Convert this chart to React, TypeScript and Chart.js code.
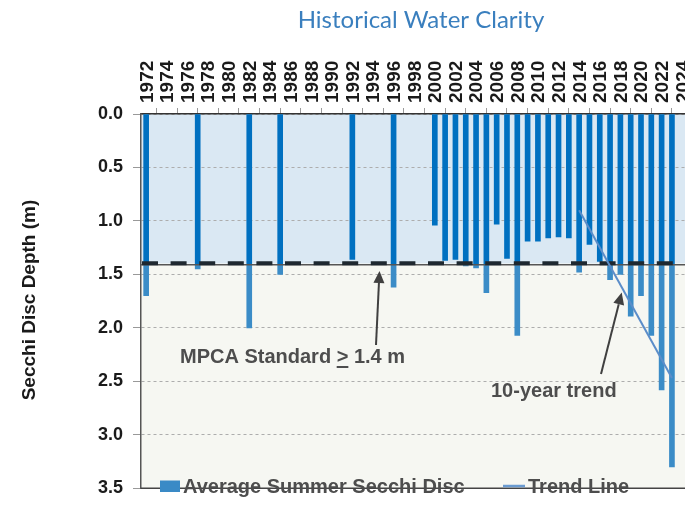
import React, { useEffect, useRef } from 'react';
import { Chart, registerables } from 'chart.js';
Chart.register(...registerables);

const years = [
  '1972','1973','1974','1975','1976','1977','1978','1979','1980','1981',
  '1982','1983','1984','1985','1986','1987','1988','1989','1990','1991',
  '1992','1993','1994','1995','1996','1997','1998','1999','2000','2001',
  '2002','2003','2004','2005','2006','2007','2008','2009','2010','2011',
  '2012','2013','2014','2015','2016','2017','2018','2019','2020','2021',
  '2022','2023','2024',
];

const secchiDepth = [
  1.70, null, null, null, null, 1.45, null, null, null, null,
  2.00, null, null, 1.50, null, null, null, null, null, null,
  1.36, null, null, null, 1.62, null, null, null, 1.04, 1.37,
  1.36, 1.42, 1.44, 1.67, 1.03, 1.35, 2.07, 1.19, 1.19, 1.16,
  1.15, 1.16, 1.48, 1.22, 1.38, 1.55, 1.50, 1.89, 1.70, 2.07,
  2.58, 3.30, null,
];

const trendLine = [
  null, null, null, null, null, null, null, null, null, null,
  null, null, null, null, null, null, null, null, null, null,
  null, null, null, null, null, null, null, null, null, null,
  null, null, null, null, null, null, null, null, null, null,
  null, null, 0.90, null, null, null, null, null, null, null,
  null, 2.47, null,
];

const yTicks = [0, 0.5, 1.0, 1.5, 2.0, 2.5, 3.0, 3.5];
const STANDARD = 1.4;

const FONT = '"Liberation Sans", Arial, Helvetica, sans-serif';
const DARK_BAR = '#0070C0';
const LIGHT_BAR = '#3B8CC7';

function drawArrow(ctx: CanvasRenderingContext2D, x1: number, y1: number, x2: number, y2: number) {
  const ang = Math.atan2(y2 - y1, x2 - x1);
  const len = 12;
  const hw = 5.5;
  const bx = x2 - len * Math.cos(ang);
  const by = y2 - len * Math.sin(ang);
  ctx.save();
  ctx.strokeStyle = '#404040';
  ctx.fillStyle = '#404040';
  ctx.lineWidth = 2;
  ctx.beginPath();
  ctx.moveTo(x1, y1);
  ctx.lineTo(bx, by);
  ctx.stroke();
  ctx.beginPath();
  ctx.moveTo(x2, y2);
  ctx.lineTo(bx + hw * Math.sin(ang), by - hw * Math.cos(ang));
  ctx.lineTo(bx - hw * Math.sin(ang), by + hw * Math.cos(ang));
  ctx.closePath();
  ctx.fill();
  ctx.restore();
}

const decorPlugin = {
  id: 'decor',
  beforeDraw(chart: any) {
    const { ctx, chartArea: a, scales } = chart;
    const ys = scales.y.getPixelForValue(STANDARD);
    ctx.save();
    ctx.fillStyle = '#DAE8F3';
    ctx.fillRect(a.left, a.top, a.right - a.left, ys - a.top);
    ctx.fillStyle = '#F6F7F2';
    ctx.fillRect(a.left, ys, a.right - a.left, a.bottom - ys);
    ctx.restore();
  },
  beforeDatasetDraw(chart: any, args: any) {
    if (args.index !== 1) return;
    const { ctx, chartArea: a, scales } = chart;
    const ys = scales.y.getPixelForValue(STANDARD);
    ctx.save();
    ctx.strokeStyle = '#555555';
    ctx.lineWidth = 1.5;
    ctx.beginPath();
    ctx.moveTo(a.left, ys + 1);
    ctx.lineTo(a.right, ys + 1);
    ctx.stroke();
    ctx.strokeStyle = '#1E2830';
    ctx.lineWidth = 4;
    ctx.setLineDash([16, 12.6]);
    ctx.beginPath();
    ctx.moveTo(a.left + 1, ys - 0.5);
    ctx.lineTo(a.right, ys - 0.5);
    ctx.stroke();
    ctx.restore();
  },
  afterDraw(chart: any) {
    const { ctx, chartArea: a } = chart;
    ctx.save();
    // bottom border
    ctx.strokeStyle = '#444';
    ctx.lineWidth = 1.5;
    ctx.beginPath();
    ctx.moveTo(a.left, a.bottom);
    ctx.lineTo(a.right, a.bottom);
    ctx.stroke();

    // title
    ctx.fillStyle = '#3A7FBE';
    ctx.font = '24px Lato, "Open Sans", sans-serif';
    ctx.textAlign = 'center';
    ctx.textBaseline = 'alphabetic';
    ctx.fillText('Historical Water Clarity', 421, 28);

    // y axis title
    ctx.save();
    ctx.translate(30, 300);
    ctx.rotate(-Math.PI / 2);
    ctx.fillStyle = '#1a1a1a';
    ctx.font = `bold 19px ${FONT}`;
    ctx.textAlign = 'center';
    ctx.textBaseline = 'middle';
    ctx.fillText('Secchi Disc Depth (m)', 0, 0);
    ctx.restore();

    // annotations
    ctx.fillStyle = '#4D4D4D';
    ctx.font = `bold 20px ${FONT}`;
    ctx.textAlign = 'left';
    ctx.textBaseline = 'alphabetic';
    const mx = 180;
    const mText = 'MPCA Standard > 1.4 m';
    ctx.fillText(mText, mx, 362.5);
    const pre = ctx.measureText('MPCA Standard ').width;
    const gw = ctx.measureText('>').width;
    ctx.strokeStyle = '#4D4D4D';
    ctx.lineWidth = 2;
    ctx.beginPath();
    ctx.moveTo(mx + pre, 367);
    ctx.lineTo(mx + pre + gw, 367);
    ctx.stroke();
    drawArrow(ctx, 376, 345, 379.5, 271);

    ctx.fillText('10-year trend', 491, 396.5);
    drawArrow(ctx, 601, 374, 621.7, 292.5);

    // legend
    ctx.fillStyle = '#3A8AC6';
    ctx.fillRect(160, 480.5, 20, 11.5);
    ctx.fillStyle = '#4D4D4D';
    ctx.fillText('Average Summer Secchi Disc', 183, 492.5);
    ctx.strokeStyle = '#6A9BD1';
    ctx.lineWidth = 2.5;
    ctx.beginPath();
    ctx.moveTo(503, 486);
    ctx.lineTo(525, 486);
    ctx.stroke();
    ctx.fillText('Trend Line', 528, 492.5);
    ctx.restore();
  },
};

function barColor(c: any) {
  const chart = c.chart;
  const a = chart.chartArea;
  if (!a) return DARK_BAR;
  const y = chart.scales.y;
  const ys = y.getPixelForValue(STANDARD);
  const g = chart.ctx.createLinearGradient(0, a.top, 0, a.bottom);
  const f = Math.min(1, Math.max(0, (ys - a.top) / (a.bottom - a.top)));
  g.addColorStop(0, DARK_BAR);
  g.addColorStop(f, DARK_BAR);
  g.addColorStop(Math.min(1, f + 0.0001), LIGHT_BAR);
  g.addColorStop(1, LIGHT_BAR);
  return g;
}

export default function App() {
  const ref = useRef<HTMLCanvasElement | null>(null);
  useEffect(() => {
    if (!ref.current) return;
    const chart = new Chart(ref.current, {
      type: 'bar',
      data: {
        labels: years,
        datasets: [
          {
            type: 'bar',
            label: 'Average Summer Secchi Disc',
            data: secchiDepth,
            backgroundColor: barColor,
            borderWidth: 0,
            barThickness: 5,
            order: 0,
          } as any,
          {
            type: 'line',
            label: 'Trend Line',
            data: trendLine,
            borderColor: '#5B8DC9',
            borderWidth: 2,
            pointRadius: 0,
            spanGaps: true,
            fill: false,
            order: -1,
          } as any,
        ],
      },
      options: {
        animation: false,
        responsive: true,
        maintainAspectRatio: false,
        layout: { padding: { left: 0, top: 0, right: 12.6, bottom: 7.5 } },
        plugins: {
          legend: { display: false },
          tooltip: { enabled: false },
          title: { display: false },
        },
        scales: {
          x: {
            position: 'top',
            offset: true,
            grid: {
              offset: true,
              drawOnChartArea: false,
              drawTicks: true,
              tickLength: 6,
              tickColor: '#999',
              color: '#999',
            },
            border: { display: true, color: '#333', width: 1.5 },
            ticks: {
              autoSkip: false,
              maxRotation: 90,
              minRotation: 90,
              padding: 5,
              labelOffset: 24,
              color: '#1a1a1a',
              font: { family: FONT, size: 19, weight: 'bold' },
              callback: (_v: any, i: number) => (i % 2 === 0 ? years[i] : null),
            },
            afterFit: (s: any) => { s.height = 114; },
          } as any,
          y: {
            reverse: true,
            min: yTicks[0],
            max: yTicks[yTicks.length - 1],
            afterBuildTicks: (s: any) => { s.ticks = yTicks.map((v) => ({ value: v })); },
            ticks: {
              padding: 10,
              color: '#1a1a1a',
              font: { family: FONT, size: 18, weight: 'bold' },
              callback: (v: any) => Number(v).toFixed(1),
            },
            grid: {
              color: '#ADADAD',
              lineWidth: 1,
              tickLength: 8,
              tickColor: '#999',
              tickBorderDash: [],
            },
            border: { display: true, color: '#555', width: 1.5, dash: [3, 3] },
            afterFit: (s: any) => { s.width = 141; },
          } as any,
        },
      },
      plugins: [decorPlugin],
    });
    return () => chart.destroy();
  }, []);

  return (
    <div style={{ position: 'fixed', left: 0, top: 0, width: 685, height: 509, overflow: 'hidden', background: '#fff' }}>
      <div style={{ position: 'relative', width: 700, height: 509 }}>
        <canvas ref={ref} />
      </div>
    </div>
  );
}
